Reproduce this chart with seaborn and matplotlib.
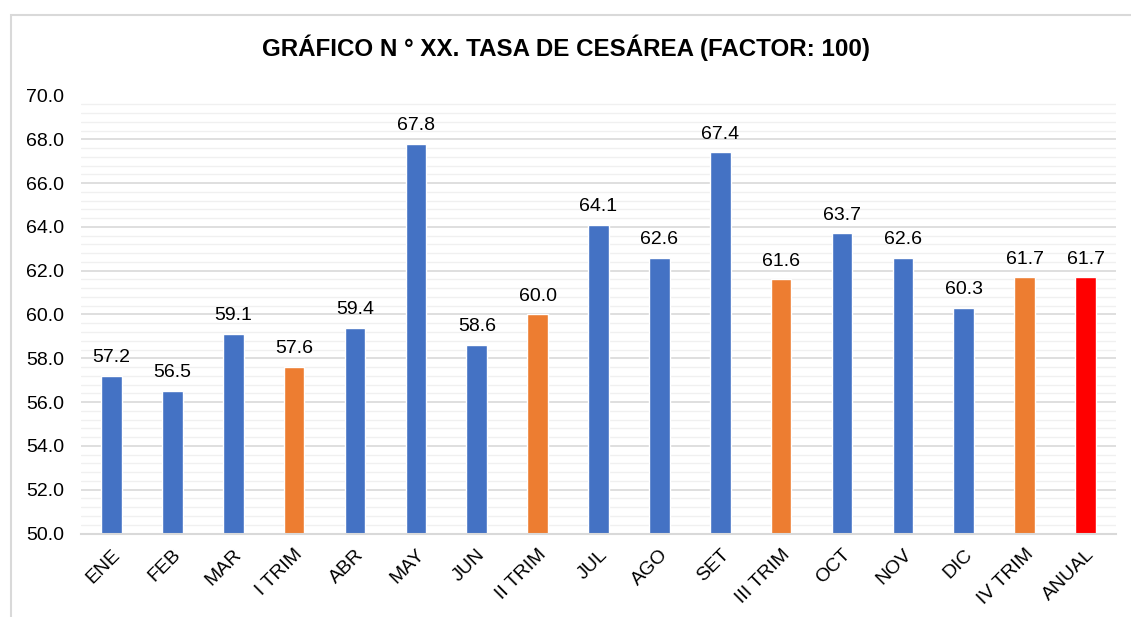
import matplotlib
matplotlib.use("Agg")
import matplotlib.pyplot as plt
import seaborn as sns
import pandas as pd
from matplotlib.ticker import MultipleLocator, FormatStrFormatter
from matplotlib.patches import Rectangle

categories = ["ENE", "FEB", "MAR", "I TRIM", "ABR", "MAY", "JUN", "II TRIM",
              "JUL", "AGO", "SET", "III TRIM", "OCT", "NOV", "DIC", "IV TRIM", "ANUAL"]
values = [57.2, 56.5, 59.1, 57.6, 59.4, 67.8, 58.6, 60.0,
          64.1, 62.6, 67.4, 61.6, 63.7, 62.6, 60.3, 61.7, 61.7]
kinds = ["mes", "mes", "mes", "trim", "mes", "mes", "mes", "trim",
         "mes", "mes", "mes", "trim", "mes", "mes", "mes", "trim", "anual"]
title = "GRÁFICO N ° XX. TASA DE CESÁREA (FACTOR: 100)"

kind_colors = {"mes": "#4472C4", "trim": "#ED7D31", "anual": "#FF0000"}
palette = [kind_colors[k] for k in kinds]

sns.set_style("white")
plt.rcParams["font.family"] = ["Liberation Sans", "DejaVu Sans"]
plt.rcParams["text.color"] = "#000000"

df = pd.DataFrame({"cat": categories, "val": values})

fig = plt.figure(figsize=(11.31, 6.17), dpi=100)
ax = fig.add_axes([81/1131, 1-533.5/617, (1116-81)/1131, (533.5-95.5)/617])

sns.barplot(data=df, x="cat", y="val", hue="cat", palette=palette, legend=False,
            width=0.34, saturation=1, ax=ax, bottom=0)

ax.set_ylim(50, 70)
ax.set_xlim(-0.5, len(categories) - 0.5)
ax.yaxis.set_major_locator(MultipleLocator(2))
ax.yaxis.set_minor_locator(MultipleLocator(0.4))
ax.yaxis.set_major_formatter(FormatStrFormatter("%.1f"))
ax.grid(True, which="major", axis="y", color="#D9D9D9", linewidth=1.2, zorder=0)
ax.grid(True, which="minor", axis="y", color="#F0F0F0", linewidth=1.0, zorder=0)
ax.set_axisbelow(True)
for s in ["left", "right", "top"]:
    ax.spines[s].set_visible(False)
ax.spines["bottom"].set_color("#D9D9D9")
ax.spines["bottom"].set_linewidth(1.5)
ax.tick_params(axis="both", which="both", length=0, labelsize=14, colors="#000000")
ax.tick_params(axis="y", pad=12)
ax.tick_params(axis="x", pad=9)
ax.set_xlabel("")
ax.set_ylabel("")
plt.setp(ax.get_xticklabels(), rotation=45, ha="right", rotation_mode="anchor")

for c in ax.containers:
    ax.bar_label(c, fmt="%.1f", padding=7, fontsize=14, color="#000000")

fig.text(0.5, 1 - 48/617, title, ha="center", va="center", fontsize=17.4,
         fontweight="bold", color="#000000")

fig.patches.append(Rectangle((11/1131, -0.05), 1.2, 1 - 14.5/617 + 0.05,
                             transform=fig.transFigure, fill=False,
                             edgecolor="#D9D9D9", linewidth=1.5))

fig.savefig("out.png", dpi=100)
